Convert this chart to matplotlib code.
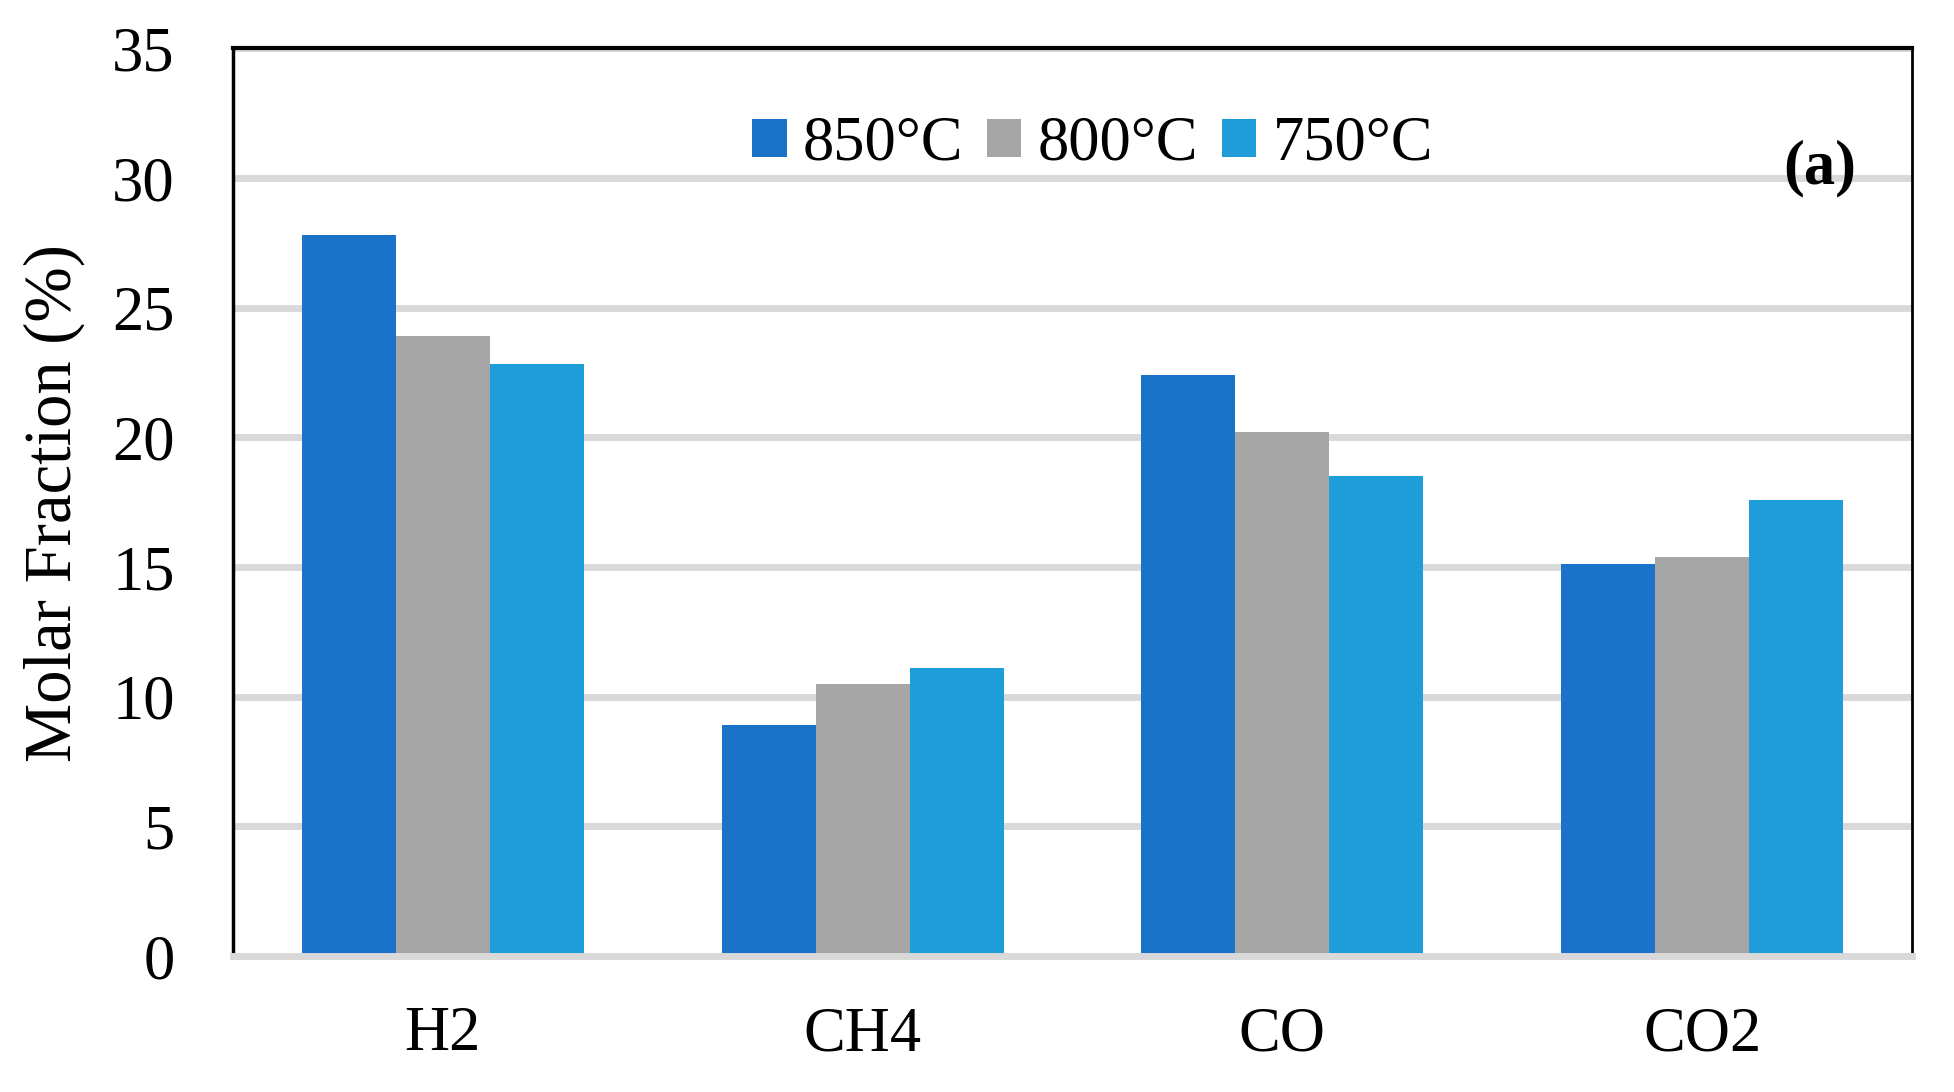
import numpy as np
import matplotlib.pyplot as plt
from matplotlib.patches import Patch

plt.rcParams['font.family'] = ['Liberation Serif', 'DejaVu Serif']

gases = ['H2', 'CH4', 'CO', 'CO2']
temps = ['850°C', '800°C', '750°C']
t850 = [27.8, 8.9, 22.4, 15.1]
t800 = [23.9, 10.5, 20.2, 15.4]
t750 = [22.85, 11.1, 18.5, 17.6]
colors = ['#1a73c8', '#a6a6a6', '#1e9dd8']

fig = plt.figure(figsize=(19.54, 10.92), dpi=100)
ax = fig.add_axes([0.1192, 0.1245, 0.9785 - 0.1192, 0.9556 - 0.1245])

x = np.arange(len(gases))
w = 0.224
for i, (vals, c) in enumerate(zip([t850, t800, t750], colors)):
    ax.bar(x + (i - 1) * w, vals, width=w, color=c, zorder=2)

ax.set_xlim(-0.5, 3.5)
ax.set_ylim(0, 35)
ax.set_yticks(np.arange(0, 36, 5))
ax.set_xticks(x)
ax.set_xticklabels(gases)
ax.yaxis.grid(True, color='#d9d9d9', linewidth=5, zorder=0)
ax.set_axisbelow(True)
ax.tick_params(axis='both', length=0, labelsize=45)
ax.tick_params(axis='y', pad=42)
ax.tick_params(axis='x', pad=36)

ax.spines['bottom'].set_color('#d9d9d9')
ax.spines['bottom'].set_linewidth(5)
ax.spines['bottom'].set_zorder(3)
ax.spines['top'].set_linewidth(3)
ax.spines['left'].set_linewidth(2.5)
ax.spines['right'].set_linewidth(2)

fig.text(54 / 1954, 1 - 503 / 1092, 'Molar Fraction (%)', rotation=90,
         ha='center', va='center', fontsize=48)

handles = [Patch(facecolor=c) for c in colors]
ax.legend(handles, temps, loc='center', bbox_to_anchor=(0.512, 0.894), ncol=3,
          frameon=False, fontsize=45, handlelength=0.55, handleheight=0.56,
          handletextpad=0.26, columnspacing=0.38)

ax.text(0.945, 0.868, '(a)', transform=ax.transAxes, ha='center', va='center',
        fontsize=45, fontweight='bold')

fig.savefig('out.png', dpi=100)
